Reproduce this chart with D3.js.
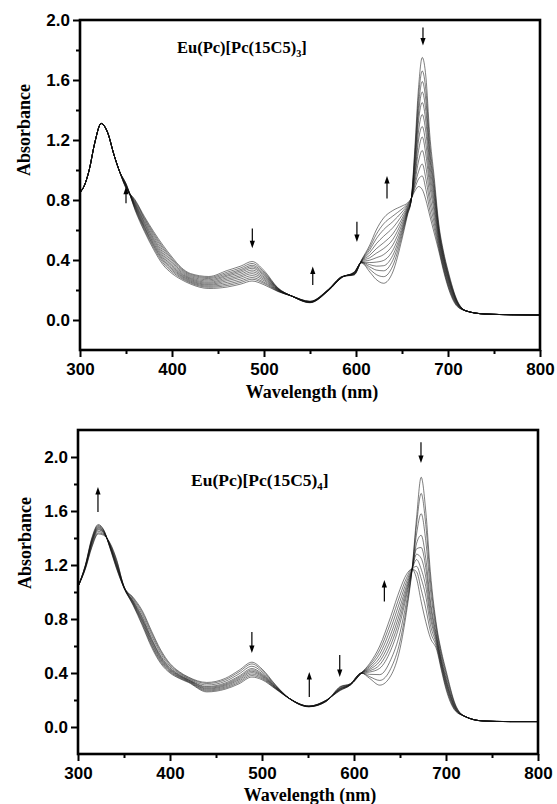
<!DOCTYPE html>
<html><head><meta charset="utf-8">
<script src="https://cdn.jsdelivr.net/npm/d3@7"></script>
<style>body{margin:0;background:#fff}svg{display:block}</style>
</head><body><svg id="c" width="557" height="804"></svg>
<script>
// ---------- Panel 1 : Eu(Pc)[Pc(15C5)3] ----------
const wlStart1 = [300,305,310,316,323,330,337,343];
const absStart1 = [0.85,0.90,1.00,1.18,1.31,1.25,1.10,0.99];
const wl1 = [350,360,370,380,390,400,410,420,440,460,475,487,500,515,530,550,570,585,598,606,615,622,630,640,650,656,660,664,668,672,676,680,685,690,695,700,710];
const wlEnd1 = [720,740,770,800];
const absEnd1 = [0.06,0.04,0.035,0.033];
const spectra1 = [
 [.88,.80,.69,.59,.50,.42,.35,.31,.29,.33,.36,.39,.33,.215,.16,.115,.195,.285,.32,.38,.32,.27,.245,.32,.54,.70,.80,1.15,1.55,1.75,1.62,1.25,.95,.64,.46,.33,.13],
 [.88,.794,.681,.579,.488,.41,.343,.304,.283,.319,.348,.377,.32,.213,.16,.116,.196,.285,.318,.382,.338,.303,.289,.361,.562,.708,.80,1.12,1.49,1.66,1.53,1.19,.913,.622,.447,.319,.126],
 [.88,.787,.672,.568,.477,.40,.336,.297,.276,.309,.337,.365,.312,.21,.16,.117,.197,.286,.316,.384,.354,.333,.328,.398,.582,.715,.80,1.09,1.43,1.59,1.46,1.14,.88,.606,.435,.309,.122],
 [.89,.78,.662,.556,.464,.389,.328,.29,.268,.30,.328,.355,.304,.208,.16,.118,.198,.286,.315,.385,.369,.359,.362,.431,.599,.722,.80,1.06,1.38,1.52,1.39,1.10,.85,.591,.425,.30,.119],
 [.89,.773,.652,.544,.451,.378,.32,.283,.26,.292,.318,.345,.297,.206,.16,.119,.199,.287,.313,.387,.383,.386,.397,.464,.617,.728,.80,1.03,1.33,1.45,1.32,1.05,.82,.577,.415,.292,.116],
 [.89,.767,.643,.534,.439,.368,.312,.277,.252,.282,.307,.333,.288,.204,.16,.119,.199,.287,.311,.389,.399,.415,.436,.50,.637,.735,.80,1.0,1.26,1.37,1.25,1.0,.787,.561,.403,.282,.112],
 [.90,.761,.634,.523,.427,.358,.305,.271,.245,.272,.296,.321,.28,.202,.16,.12,.20,.288,.309,.391,.415,.445,.476,.537,.657,.742,.805,.97,1.20,1.29,1.17,.95,.754,.545,.391,.272,.109],
 [.90,.755,.625,.512,.416,.349,.298,.265,.238,.262,.286,.309,.271,.199,.16,.121,.201,.288,.308,.392,.432,.475,.515,.574,.676,.75,.805,.95,1.13,1.22,1.10,.90,.721,.528,.379,.262,.105],
 [.90,.749,.617,.502,.405,.34,.292,.259,.232,.251,.274,.296,.262,.197,.16,.122,.202,.289,.306,.394,.45,.508,.558,.615,.698,.758,.807,.92,1.06,1.13,1.02,.84,.684,.51,.366,.251,.101],
 [.90,.743,.609,.493,.395,.331,.285,.253,.225,.24,.262,.283,.252,.195,.16,.123,.203,.289,.304,.396,.468,.541,.602,.656,.72,.766,.808,.90,.99,1.04,.94,.79,.647,.492,.353,.24,.097],
 [.91,.737,.60,.482,.383,.321,.278,.247,.218,.23,.251,.272,.244,.192,.16,.124,.204,.29,.302,.398,.484,.57,.641,.693,.74,.773,.81,.88,.94,.96,.87,.74,.613,.476,.342,.23,.094],
 [.91,.73,.59,.47,.37,.31,.27,.24,.21,.22,.24,.26,.235,.19,.16,.125,.205,.29,.30,.40,.50,.60,.68,.73,.76,.78,.81,.86,.89,.87,.80,.70,.58,.46,.33,.22,.09]
];
// arrows: [wavelength, tail absorbance, head absorbance]
const arrows1 = [[672.8,1.95,1.83],[633.7,0.81,0.96],[601,0.655,0.52],[553,0.233,0.356],[487.3,0.61,0.478],[350,0.778,0.889]];

// ---------- Panel 2 : Eu(Pc)[Pc(15C5)4] ----------
const wlStart2 = [300];
const absStart2 = [1.04];
const wl2 = [308,315,322,328,335,342,350,360,370,380,390,400,410,420,440,460,475,489,500,515,530,551,570,585,596,608,617,628,640,650,657,663,668,673,678,683,690,695,700,710];
const wlEnd2 = [720,740,770,800];
const absEnd2 = [0.08,0.045,0.04,0.04];
const spectra2 = [
 [1.17,1.33,1.43,1.42,1.36,1.24,1.04,.96,.86,.71,.57,.47,.41,.37,.33,.36,.42,.48,.43,.31,.21,.15,.19,.30,.32,.40,.36,.31,.38,.58,.85,1.16,1.55,1.85,1.60,1.15,.74,.56,.42,.17],
 [1.174,1.338,1.438,1.425,1.355,1.232,1.04,.953,.847,.696,.558,.462,.404,.365,.322,.35,.408,.467,.42,.306,.21,.15,.19,.296,.32,.40,.373,.345,.433,.633,.884,1.16,1.50,1.73,1.50,1.09,.72,.543,.403,.164],
 [1.178,1.349,1.449,1.431,1.349,1.221,1.04,.944,.83,.678,.543,.451,.397,.359,.311,.338,.393,.45,.408,.302,.21,.151,.192,.292,.318,.40,.39,.388,.499,.699,.926,1.16,1.43,1.58,1.38,1.02,.694,.522,.382,.157],
 [1.183,1.36,1.46,1.437,1.343,1.21,1.035,.934,.813,.658,.527,.44,.389,.353,.30,.326,.377,.433,.396,.297,.21,.152,.194,.287,.316,.40,.407,.435,.569,.769,.97,1.16,1.36,1.42,1.25,.94,.667,.50,.36,.149],
 [1.186,1.366,1.466,1.441,1.339,1.204,1.035,.929,.803,.648,.518,.434,.384,.349,.294,.318,.368,.423,.388,.294,.21,.153,.195,.284,.315,.40,.417,.461,.609,.809,.996,1.16,1.32,1.33,1.18,.90,.652,.487,.347,.144],
 [1.188,1.373,1.473,1.444,1.336,1.197,1.035,.923,.793,.637,.509,.427,.38,.346,.287,.311,.359,.413,.381,.292,.21,.153,.196,.282,.314,.40,.427,.487,.648,.848,1.021,1.163,1.28,1.25,1.11,.85,.636,.475,.335,.14],
 [1.191,1.379,1.479,1.448,1.332,1.191,1.035,.918,.783,.626,.50,.421,.375,.342,.281,.304,.35,.403,.374,.289,.21,.154,.197,.279,.313,.40,.437,.513,.688,.888,1.046,1.165,1.24,1.17,1.04,.81,.621,.462,.322,.135],
 [1.194,1.386,1.486,1.452,1.328,1.184,1.03,.912,.772,.614,.49,.414,.37,.338,.274,.296,.34,.392,.366,.286,.21,.154,.198,.276,.312,.40,.448,.542,.732,.932,1.074,1.167,1.19,1.10,.97,.76,.604,.448,.308,.13],
 [1.197,1.393,1.493,1.456,1.324,1.177,1.03,.906,.761,.602,.48,.407,.365,.334,.267,.288,.33,.381,.358,.283,.21,.155,.199,.273,.311,.40,.459,.571,.776,.976,1.102,1.168,1.15,1.02,.88,.71,.587,.434,.294,.125],
 [1.20,1.40,1.50,1.46,1.32,1.17,1.03,.90,.75,.59,.47,.40,.36,.33,.26,.28,.32,.37,.35,.28,.21,.155,.20,.27,.31,.40,.47,.60,.82,1.02,1.13,1.17,1.10,.93,.78,.66,.57,.42,.28,.12]
];
const arrows2 = [[321.7,1.593,1.778],[672.8,2.11,1.956],[633,0.93,1.089],[489,0.704,0.548],[551.4,0.222,0.407],[584.5,0.533,0.37]];

// ---------- ticks ----------
const xMajor = [300,400,500,600,700,800];
const xMinor = [350,450,550,650,750];
const yMajor = [0.0,0.4,0.8,1.2,1.6,2.0];
const yMinor1 = [0.2,0.6,1.0,1.4,1.8];
const yMinor2 = [0.2,0.6,1.0,1.4,1.8];

const svg = d3.select("#c");
svg.append("rect").attr("width",557).attr("height",804).attr("fill","#fff");

function build(ws, as, wl, vals, we, ae){
  const pts = [];
  ws.forEach((w,i)=>pts.push([w,as[i]]));
  wl.forEach((w,i)=>pts.push([w,vals[i]]));
  we.forEach((w,i)=>pts.push([w,ae[i]]));
  return pts;
}

function panel(o){
  const g = svg.append("g");
  const x = d3.scaleLinear([300,800],[o.left,o.right]);
  const y = d3.scaleLinear(o.yDomain,[o.bottom,o.top]);
  const id = "clip"+o.id;
  svg.append("clipPath").attr("id",id).append("rect")
     .attr("x",o.left).attr("y",o.top).attr("width",o.right-o.left).attr("height",o.bottom-o.top);
  const line = d3.line().x(d=>x(d[0])).y(d=>y(d[1])).curve(d3.curveMonotoneX);
  const sg = g.append("g").attr("clip-path",`url(#${id})`);
  o.spectra.forEach(v=>{
    sg.append("path").attr("d",line(build(o.ws,o.as,o.wl,v,o.we,o.ae)))
      .attr("fill","none").attr("stroke","#111").attr("stroke-width",0.6).attr("stroke-opacity",0.9);
  });
  const fontT = "'Liberation Sans', Arial, Helvetica, sans-serif";
  g.append("g").attr("transform",`translate(0,${o.bottom})`)
     .call(d3.axisBottom(x).tickValues(xMajor).tickSize(7).tickPadding(6).tickFormat(d3.format("d")));
  g.append("g").attr("transform",`translate(0,${o.bottom})`)
     .call(d3.axisBottom(x).tickValues(xMinor).tickSize(4).tickFormat(""));
  g.append("g").attr("transform",`translate(${o.left},0)`)
     .call(d3.axisLeft(y).tickValues(yMajor).tickSize(7).tickPadding(3).tickFormat(d3.format(".1f")));
  g.append("g").attr("transform",`translate(${o.left},0)`)
     .call(d3.axisLeft(y).tickValues(o.yMinor).tickSize(4).tickFormat(""));
  g.selectAll(".domain").remove();
  g.selectAll(".tick line").attr("stroke","#000").attr("stroke-width",2);
  g.selectAll(".tick text").attr("font-family",fontT).attr("font-size",17).attr("font-weight","bold").attr("fill","#000");
  g.append("rect").attr("x",o.left).attr("y",o.top).attr("width",o.right-o.left).attr("height",o.bottom-o.top)
    .attr("fill","none").attr("stroke","#000").attr("stroke-width",2.6);
  const serif = "'Liberation Serif', 'Times New Roman', Times, serif";
  g.append("text").attr("x",(o.left+o.right)/2+2).attr("y",o.xTitleY).attr("text-anchor","middle")
    .attr("font-family",serif).attr("font-weight","bold").attr("font-size",18).text("Wavelength (nm)");
  g.append("text").attr("transform",`translate(${o.yTitleX},${o.yTitleCY}) rotate(-90)`).attr("text-anchor","middle")
    .attr("font-family",serif).attr("font-weight","bold").attr("font-size",18).text("Absorbance");
  const t = g.append("text").attr("x",o.labX).attr("y",o.labY)
    .attr("font-family",serif).attr("font-weight","bold").attr("font-size",o.labSize);
  t.append("tspan").text("Eu(Pc)[Pc(15C5)");
  t.append("tspan").attr("dy",4).attr("font-size",o.labSize*0.62).text(o.sub);
  t.append("tspan").attr("dy",-4).text("]");
  o.arrows.forEach(a=>{
    const ax = x(a[0]), y0 = y(a[1]), y1 = y(a[2]);
    const dir = y1>y0?1:-1;
    g.append("line").attr("x1",ax).attr("x2",ax).attr("y1",y0).attr("y2",y1-dir*5)
      .attr("stroke","#000").attr("stroke-width",1.2);
    g.append("path").attr("d",`M${ax},${y1} L${ax-2.6},${y1-dir*7.5} L${ax+2.6},${y1-dir*7.5} Z`).attr("fill","#000");
  });
}

panel({id:1,left:80,right:540,top:20,bottom:350,yDomain:[-0.2,2.0],yMinor:yMinor1,
  ws:wlStart1,as:absStart1,wl:wl1,we:wlEnd1,ae:absEnd1,spectra:spectra1,arrows:arrows1,
  xTitleY:398,yTitleX:30,yTitleCY:130,labX:177,labY:53,labSize:16.5,sub:"3"});
panel({id:2,left:78,right:538,top:430,bottom:754,yDomain:[-0.2,2.2],yMinor:yMinor2,
  ws:wlStart2,as:absStart2,wl:wl2,we:wlEnd2,ae:absEnd2,spectra:spectra2,arrows:arrows2,
  xTitleY:801,yTitleX:31,yTitleCY:543,labX:191,labY:486,labSize:17.5,sub:"4"});
</script></body></html>
